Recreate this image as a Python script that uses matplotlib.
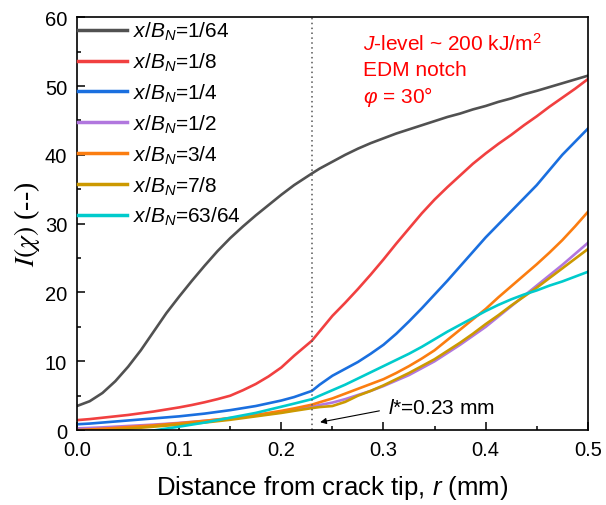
import matplotlib
matplotlib.use("Agg")
import matplotlib.pyplot as plt

# Distance from crack tip (mm)
r = [0.0, 0.0125, 0.025, 0.0375, 0.05, 0.0625, 0.075, 0.0875, 0.1, 0.1125,
     0.125, 0.1375, 0.15, 0.1625, 0.175, 0.1875, 0.2, 0.2125, 0.23, 0.2375,
     0.25, 0.2625, 0.275, 0.2875, 0.3, 0.3125, 0.325, 0.3375, 0.35, 0.3625,
     0.375, 0.3875, 0.4, 0.4125, 0.425, 0.4375, 0.45, 0.4625, 0.475, 0.4875,
     0.5]

# I(chi) at each crack-front position x/B_N
i_1_64 = [3.5, 4.2, 5.4, 7.1, 9.2, 11.6, 14.3, 17.0, 19.4, 21.7,
          23.9, 26.0, 27.9, 29.6, 31.2, 32.7, 34.2, 35.6, 37.3, 38.0,
          39.0, 40.0, 40.9, 41.7, 42.4, 43.1, 43.7, 44.3, 44.9, 45.5,
          46.0, 46.6, 47.1, 47.7, 48.2, 48.8, 49.3, 49.85, 50.4, 50.95,
          51.5]
i_1_8 = [1.45, 1.6, 1.8, 2.0, 2.2, 2.45, 2.7, 3.0, 3.3, 3.65,
         4.05, 4.5, 5.0, 5.8, 6.7, 7.8, 9.1, 10.8, 13.0, 14.35,
         16.6, 18.5, 20.5, 22.6, 24.8, 27.1, 29.3, 31.5, 33.5, 35.3,
         37.0, 38.7, 40.2, 41.6, 42.9, 44.3, 45.6, 47.0, 48.3, 49.6,
         51.0]
i_1_4 = [0.85, 0.95, 1.1, 1.25, 1.4, 1.55, 1.7, 1.85, 2.0, 2.2,
         2.4, 2.65, 2.9, 3.2, 3.5, 3.9, 4.3, 4.8, 5.7, 6.6,
         7.9, 8.9, 9.9, 11.1, 12.4, 14.0, 15.8, 17.7, 19.7, 21.7,
         23.8, 25.9, 28.0, 29.9, 31.8, 33.7, 35.6, 37.8, 40.0, 41.9,
         43.8]
i_1_2 = [0.25, 0.32, 0.4, 0.5, 0.6, 0.7, 0.8, 0.92, 1.05, 1.2,
         1.35, 1.52, 1.7, 1.9, 2.1, 2.35, 2.6, 2.9, 3.4, 3.65,
         4.0, 4.5, 5.1, 5.7, 6.4, 7.2, 8.0, 9.0, 10.0, 11.2,
         12.4, 13.7, 15.0, 16.5, 18.0, 19.5, 21.0, 22.5, 24.0, 25.6,
         27.2]
i_3_4 = [0.0, 0.1, 0.2, 0.32, 0.45, 0.57, 0.7, 0.85, 1.0, 1.17,
         1.35, 1.55, 1.75, 1.97, 2.2, 2.5, 2.8, 3.15, 3.7, 4.05,
         4.6, 5.3, 6.0, 6.7, 7.4, 8.3, 9.3, 10.4, 11.6, 13.1,
         14.6, 16.1, 17.6, 19.3, 20.9, 22.5, 24.1, 25.8, 27.6, 29.6,
         31.7]
i_7_8 = [-0.4, -0.25, -0.1, 0.05, 0.2, 0.35, 0.5, 0.65, 0.8, 0.95,
         1.1, 1.3, 1.5, 1.75, 2.0, 2.25, 2.5, 2.8, 3.2, 3.35,
         3.5, 4.1, 5.0, 5.7, 6.5, 7.4, 8.3, 9.3, 10.3, 11.5,
         12.7, 14.0, 15.4, 16.7, 18.1, 19.4, 20.7, 22.1, 23.5, 24.9,
         26.3]
i_63_64 = [-1.3, -1.1, -0.9, -0.7, -0.5, -0.28, -0.05, 0.22, 0.5, 0.8,
           1.1, 1.45, 1.8, 2.15, 2.5, 2.95, 3.4, 3.85, 4.5, 5.0,
           5.8, 6.6, 7.5, 8.4, 9.3, 10.2, 11.1, 12.1, 13.2, 14.3,
           15.3, 16.3, 17.3, 18.2, 19.0, 19.7, 20.3, 21.0, 21.6, 22.3,
           23.0]

labels = ["1/64", "1/8", "1/4", "1/2", "3/4", "7/8", "63/64"]
series = [i_1_64, i_1_8, i_1_4, i_1_2, i_3_4, i_7_8, i_63_64]
colors = ["#515151", "#F14040", "#1A6FDF", "#B177DE", "#FB7D10", "#CC9900", "#00CBCC"]

l_star = 0.23

plt.rcParams["font.family"] = ["Liberation Sans", "DejaVu Sans"]
plt.rcParams["mathtext.fontset"] = "custom"
plt.rcParams["mathtext.it"] = "Liberation Sans:italic"
plt.rcParams["mathtext.rm"] = "Liberation Sans"

fig = plt.figure(figsize=(6.06, 5.06), dpi=100)
ax = fig.add_axes([0.127, 0.148, 0.843, 0.816])

for vals, lab, c in zip(series, labels, colors):
    ax.plot(r, vals, color=c, lw=1.9, label=r"$x$/$B_N$=" + lab)

ax.axvline(l_star, color="#555555", lw=1.1, ls=(0, (1, 2.2)))

ax.set_xlim(0, 0.5)
ax.set_ylim(0, 60)
ax.set_xticks([0.0, 0.1, 0.2, 0.3, 0.4, 0.5])
ax.set_xticks([0.05, 0.15, 0.25, 0.35, 0.45], minor=True)
ax.set_yticks(range(0, 61, 10))
ax.set_yticks(range(5, 60, 10), minor=True)
ax.xaxis.set_major_formatter(matplotlib.ticker.FormatStrFormatter("%.1f"))
ax.tick_params(which="both", direction="in", top=False, right=False,
               labelsize=14.5, width=1.1)
ax.tick_params(which="major", length=5.5, pad=7)
ax.tick_params(which="minor", length=3)
for s in ax.spines.values():
    s.set_linewidth(1.2)

ax.set_xlabel(r"Distance from crack tip, $r$ (mm)", fontsize=18.5, labelpad=10)
ax.set_ylabel(r"$I(\chi)$ (--)", fontsize=20, family="Liberation Serif",
              labelpad=2)
ax.yaxis.label.set_math_fontfamily("stix")

leg = ax.legend(loc="upper left", frameon=False, fontsize=15,
                handlelength=2.35, handletextpad=0.29, labelspacing=0.41,
                borderpad=0.0, borderaxespad=0.0,
                bbox_to_anchor=(0.002, 0.993))
for h in leg.get_lines():
    h.set_linewidth(2.5)

ax.text(0.56, 0.937, r"$J$-level ~ 200 kJ/m$^2$", transform=ax.transAxes,
        color="red", fontsize=15, va="center")
ax.text(0.56, 0.874, "EDM notch", transform=ax.transAxes,
        color="red", fontsize=15, va="center")
ax.text(0.56, 0.809, r"$\varphi$ = 30°", transform=ax.transAxes,
        color="red", fontsize=15, va="center")

# pointer to the characteristic length l*
ax.annotate("", xy=(0.238, 1.15), xytext=(0.296, 2.8),
            arrowprops=dict(arrowstyle="-|>", color="black", lw=0.8,
                            shrinkA=0, shrinkB=0, mutation_scale=9))
ax.text(0.304, 3.3, r"$l$*=0.23 mm", fontsize=15, va="center")

fig.savefig("out.png", dpi=100)
